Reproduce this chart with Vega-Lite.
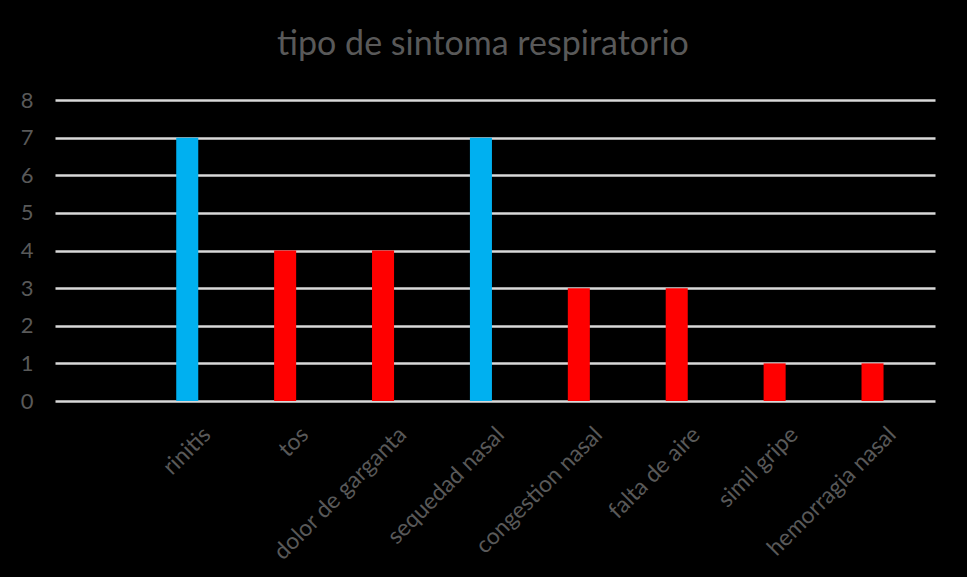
{
  "$schema": "https://vega.github.io/schema/vega-lite/v6.json",
  "autosize": {"type": "none"},
  "width": 880,
  "height": 301,
  "padding": {"left": 55, "top": 100, "right": 32, "bottom": 176},
  "background": "#000000",
  "title": {
    "text": "tipo de sintoma respiratorio",
    "anchor": "middle",
    "dx": -12,
    "offset": 27,
    "font": "Lato",
    "fontSize": 34,
    "fontWeight": "normal",
    "color": "#595959"
  },
  "data": {
    "values": [
      {"sintoma": "rinitis", "casos": 7},
      {"sintoma": "tos", "casos": 4},
      {"sintoma": "dolor de garganta", "casos": 4},
      {"sintoma": "sequedad nasal", "casos": 7},
      {"sintoma": "congestion nasal", "casos": 3},
      {"sintoma": "falta de aire", "casos": 3},
      {"sintoma": "simil gripe", "casos": 1},
      {"sintoma": "hemorragia nasal", "casos": 1}
    ]
  },
  "mark": {"type": "bar"},
  "encoding": {
    "x": {
      "field": "sintoma",
      "type": "nominal",
      "sort": null,
      "scale": {"paddingInner": 0.775, "paddingOuter": 0.882, "align": 0.702},
      "axis": {
        "title": null,
        "labelAngle": -45,
        "labelFont": "Lato",
        "labelFontSize": 23,
        "labelColor": "#595959",
        "labelPadding": 22,
        "labelOffset": 12,
        "labelLimit": 300,
        "ticks": false,
        "domain": false,
        "grid": false
      }
    },
    "y": {
      "field": "casos",
      "type": "quantitative",
      "scale": {"domain": [0, 8], "nice": false},
      "axis": {
        "title": null,
        "values": [0, 1, 2, 3, 4, 5, 6, 7, 8],
        "labelFont": "Lato",
        "labelFontSize": 22,
        "labelColor": "#595959",
        "labelPadding": 22,
        "ticks": false,
        "domain": false,
        "grid": true,
        "gridColor": "#d9d9d9",
        "gridWidth": 2.5
      }
    },
    "color": {
      "condition": {"test": "datum.casos == 7", "value": "#00B0F0"},
      "value": "#FF0000"
    }
  },
  "config": {"view": {"stroke": null}}
}
